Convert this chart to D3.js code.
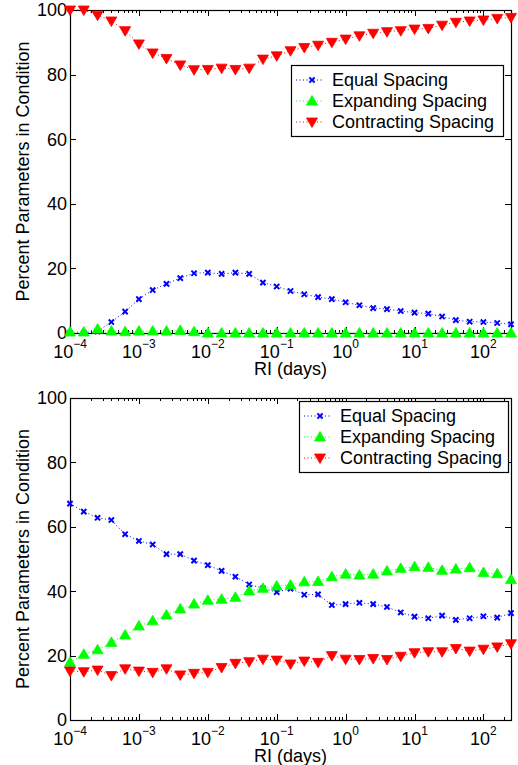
<!DOCTYPE html>
<html>
<head>
<meta charset="utf-8">
<script src="https://cdn.jsdelivr.net/npm/d3@7"></script>
<style>
html,body{margin:0;padding:0;background:#fff;}
svg{display:block;font-family:"Liberation Sans",Arial,Helvetica,sans-serif;}
</style>
</head>
<body>
<svg id="chart" width="518" height="765"></svg>
<script>
// RI values as exponents of 10 (days)
const riExponents = [-4,-3.8,-3.6,-3.4,-3.2,-3,-2.8,-2.6,-2.4,-2.2,-2,-1.8,-1.6,-1.4,-1.2,-1,-0.8,-0.6,-0.4,-0.2,0,0.2,0.4,0.6,0.8,1,1.2,1.4,1.6,1.8,2,2.2,2.4];

const seriesNames = ["Equal Spacing","Expanding Spacing","Contracting Spacing"];

// Top panel
const topEqual = [0,0,0.5,3.4,6.6,10.5,13.3,15.2,17,18.5,18.7,18.3,18.7,18.3,15.6,14.4,13.0,12.0,11.1,10.5,9.5,8.6,7.7,7.4,6.8,6.3,6.0,5.1,4.0,3.5,3.4,3.1,2.7];
const topExpanding = [0.3,0.3,1.2,0.6,0.4,0.6,0.6,0.6,0.8,0.4,0,0,0,0,0,0,0,0,0,0,0,0,0,0,0,0,0,0,0,0,0,0,0];
const topContracting = [100,100,98.4,96.6,93.6,89.5,86.7,85,83,81.5,81.6,82,81.6,82,84.8,85.8,87.4,88.4,89.1,90,91,92,92.8,93.3,93.6,94.1,94.3,95.3,96.2,96.6,96.9,97.4,97.7];

// Bottom panel
const bottomEqual = [67.2,64.7,62.8,62.1,57.7,55.6,54.5,51.5,51.5,49.5,48.1,46.3,44.5,42.1,40.9,39.7,40.8,38.9,39.0,35.7,36.0,36.4,36.0,35.1,33.4,32.1,31.6,32.4,31.1,31.6,32.2,31.8,33.2];
const bottomExpanding = [17.9,20.4,21.8,24.1,26.4,29.2,30.8,32.6,34.5,36,37.2,37.5,38.1,40.1,40.9,41.6,41.9,42.9,43.0,44.5,45.3,45.0,45.3,46.3,47.1,47.6,47.4,46.5,46.9,47.3,45.8,45.4,43.6];
const bottomContracting = [15.2,15,15.5,13.8,15.9,15.2,14.8,15.9,14,14.5,14.8,16.3,17.6,18.1,18.9,18.6,17.4,18.3,17.9,20.0,18.9,18.8,19.1,18.8,19.8,20.9,21.2,21.2,22.2,21.4,22,22.7,23.7];

const yTicks = [0,20,40,60,80,100];
const xMajorExps = [-4,-3,-2,-1,0,1,2];

const colors = ["#0000ff","#00ff00","#ff0000"];
const FONT = 18;

const svg = d3.select("#chart");

function drawPanel(top, bottom, data, legendBox) {
  const left = 70, right = 511;
  const x = d3.scaleLog().domain([1e-4, Math.pow(10, 2.4)]).range([left, right]);
  const y = d3.scaleLinear().domain([0, 100]).range([bottom, top]);
  const g = svg.append("g");

  // Minor ticks
  const minor = [];
  for (let e = -4; e <= 2; e++) for (let m = 2; m <= 9; m++) {
    const v = m * Math.pow(10, e);
    if (v <= Math.pow(10, 2.4)) minor.push(v);
  }
  const tk = g.append("g").attr("stroke", "#000").attr("stroke-width", 1);
  minor.forEach(v => {
    const px = Math.round(x(v)) + 0.5;
    tk.append("line").attr("x1", px).attr("x2", px).attr("y1", bottom).attr("y2", bottom - 3);
    tk.append("line").attr("x1", px).attr("x2", px).attr("y1", top).attr("y2", top + 3);
  });
  xMajorExps.forEach(e => {
    const px = Math.round(x(Math.pow(10, e))) + 0.5;
    tk.append("line").attr("x1", px).attr("x2", px).attr("y1", bottom).attr("y2", bottom - 6);
    tk.append("line").attr("x1", px).attr("x2", px).attr("y1", top).attr("y2", top + 6);
  });
  yTicks.forEach(t => {
    const py = Math.round(y(t)) + 0.5;
    tk.append("line").attr("x1", left).attr("x2", left + 6).attr("y1", py).attr("y2", py);
    tk.append("line").attr("x1", right).attr("x2", right - 6).attr("y1", py).attr("y2", py);
  });

  // Box
  g.append("rect").attr("x", left + 0.5).attr("y", top + 0.5)
    .attr("width", right - left).attr("height", bottom - top)
    .attr("fill", "none").attr("stroke", "#000").attr("stroke-width", 1.2);

  // Y tick labels
  yTicks.forEach(t => {
    g.append("text").attr("x", left - 3).attr("y", y(t)).attr("dy", "0.35em")
      .attr("text-anchor", "end").attr("font-size", FONT).text(t);
  });
  // X tick labels
  xMajorExps.forEach(e => {
    const t = g.append("text").attr("x", x(Math.pow(10, e))).attr("y", bottom + 25)
      .attr("text-anchor", "middle").attr("font-size", FONT);
    t.append("tspan").text("10");
    t.append("tspan").attr("dy", -10).attr("font-size", 12).text(e < 0 ? "\u2212" + (-e) : String(e));
  });

  // Axis titles
  g.append("text").attr("x", (left + right) / 2).attr("y", bottom + 42)
    .attr("text-anchor", "middle").attr("font-size", FONT).text("RI (days)");
  g.append("text").attr("transform", `translate(29,${(top + bottom) / 2}) rotate(-90)`)
    .attr("text-anchor", "middle").attr("font-size", FONT).text("Percent Parameters in Condition");

  const line = d3.line().x((d, i) => x(Math.pow(10, riExponents[i]))).y(d => y(d));

  data.forEach((vals, si) => {
    g.append("path").attr("d", line(vals)).attr("fill", "none")
      .attr("stroke", colors[si]).attr("stroke-width", 1).attr("stroke-dasharray", "1,2.5");
    const mg = g.append("g");
    vals.forEach((v, i) => drawMarker(mg, si, x(Math.pow(10, riExponents[i])), y(v)));
  });

  // Legend
  const lb = legendBox;
  const lg = g.append("g");
  lg.append("rect").attr("x", lb.x + 0.5).attr("y", lb.y + 0.5).attr("width", lb.w).attr("height", lb.h)
    .attr("fill", "#fff").attr("stroke", "#000").attr("stroke-width", 1.2);
  seriesNames.forEach((name, si) => {
    const ry = lb.y + 15 + si * 21;
    lg.append("line").attr("x1", lb.x + 5).attr("x2", lb.x + 33).attr("y1", ry).attr("y2", ry)
      .attr("stroke", colors[si]).attr("stroke-width", 1).attr("stroke-dasharray", "1,2.5");
    drawMarker(lg, si, lb.x + 21, ry);
    lg.append("text").attr("x", lb.x + 41).attr("y", ry).attr("dy", "0.36em")
      .attr("font-size", FONT).text(name);
  });
}

function drawMarker(g, si, cx, cy) {
  if (si === 0) {
    const s = 2.6;
    g.append("path").attr("d", `M${cx - s},${cy - s}L${cx + s},${cy + s}M${cx - s},${cy + s}L${cx + s},${cy - s}`)
      .attr("stroke", colors[0]).attr("stroke-width", 2).attr("fill", "none");
  } else if (si === 1) {
    g.append("path").attr("d", `M${cx},${cy - 5.5}L${cx + 5.5},${cy + 4}L${cx - 5.5},${cy + 4}Z`)
      .attr("fill", colors[1]).attr("stroke", colors[1]).attr("stroke-width", 0.8);
  } else {
    g.append("path").attr("d", `M${cx},${cy + 5.5}L${cx + 5.5},${cy - 4}L${cx - 5.5},${cy - 4}Z`)
      .attr("fill", colors[2]).attr("stroke", colors[2]).attr("stroke-width", 0.8);
  }
}

drawPanel(10, 333, [topEqual, topExpanding, topContracting], {x: 291, y: 65, w: 212, h: 71});
drawPanel(398, 720, [bottomEqual, bottomExpanding, bottomContracting], {x: 299, y: 401, w: 209, h: 71});
</script>
</body>
</html>
